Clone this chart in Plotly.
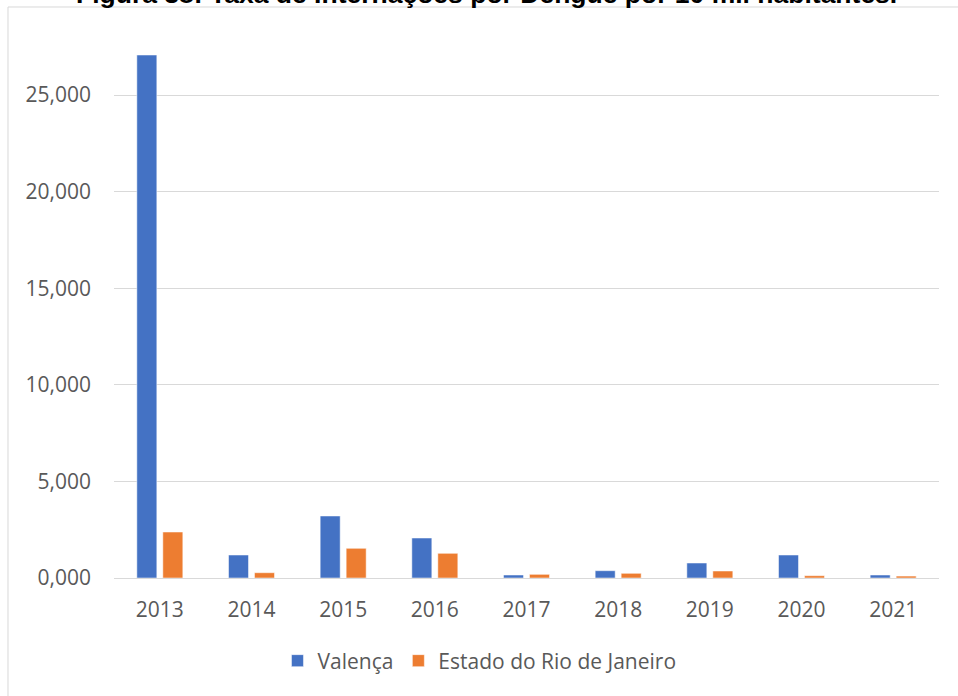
import plotly.graph_objects as go

# Taxa de internações por dengue por 10 mil habitantes
anos = ['2013', '2014', '2015', '2016', '2017', '2018', '2019', '2020', '2021']
valenca = [27.07, 1.19, 3.21, 2.07, 0.155, 0.378, 0.776, 1.19, 0.155]
estado_rj = [2.38, 0.274, 1.537, 1.278, 0.19, 0.243, 0.362, 0.119, 0.10]
y_ticks = [0, 5, 10, 15, 20, 25]

COLORS = {
    'blue': '#4472C4',
    'orange': '#ED7D31',
    'grid': '#d9d9d9',
    'text': '#595959',
}

fig = go.Figure()

fig.add_trace(go.Bar(
    x=anos,
    y=valenca,
    name='Valença',
    marker=dict(color=COLORS['blue'], line=dict(color='rgba(255,255,255,0.5)', width=1)),
))

fig.add_trace(go.Bar(
    x=anos,
    y=estado_rj,
    name='Estado do Rio de Janeiro',
    marker=dict(color=COLORS['orange'], line=dict(color='rgba(255,255,255,0.5)', width=1)),
))

# title sits half outside the top edge, as in the source image
fig.add_annotation(
    text='<b>Figura 38: Taxa de Internações por Dengue por 10 mil habitantes.</b>',
    xref='paper', yref='paper',
    x=0.451, y=1.0,
    xanchor='center', yanchor='middle',
    yshift=6,
    showarrow=False,
    font=dict(family='Liberation Sans, Arial', size=26.5, color='#000000'),
)

# chart frame
fig.add_shape(
    type='rect', xref='paper', yref='paper',
    x0=-0.1285, x1=1.04, y0=-0.25, y1=0.9879,
    line=dict(color=COLORS['grid'], width=1),
    fillcolor='rgba(0,0,0,0)',
    layer='below',
)

fig.update_layout(
    width=958,
    height=696,
    margin=dict(l=114, r=19, t=0, b=118),
    paper_bgcolor='white',
    plot_bgcolor='white',
    separators=',.',
    barmode='group',
    bargap=0.433,
    bargroupgap=0.23,
    font=dict(family='Open Sans', size=21, color=COLORS['text']),
    showlegend=True,
    legend=dict(
        orientation='h',
        x=0.443, xanchor='center',
        y=-0.1436, yanchor='middle',
        font=dict(size=21, color=COLORS['text']),
        itemwidth=30,
    ),
    xaxis=dict(
        showgrid=False,
        showline=True,
        linecolor=COLORS['grid'],
        linewidth=1,
        ticks='',
        ticklabelstandoff=13,
        tickfont=dict(size=21, color=COLORS['text']),
    ),
    yaxis=dict(
        range=[0, 29.917],
        tickvals=y_ticks,
        tickformat='.3f',
        showgrid=True,
        gridcolor=COLORS['grid'],
        gridwidth=1,
        zeroline=False,
        showline=False,
        ticks='',
        ticklabelstandoff=22,
        tickfont=dict(size=21, color=COLORS['text']),
    ),
)

# page margin would push the figure 8px down/right; drop it so the figure fills the window
fig.write_html(
    'out.html',
    config={'displayModeBar': False},
    post_script="document.body.style.margin='0';",
)
